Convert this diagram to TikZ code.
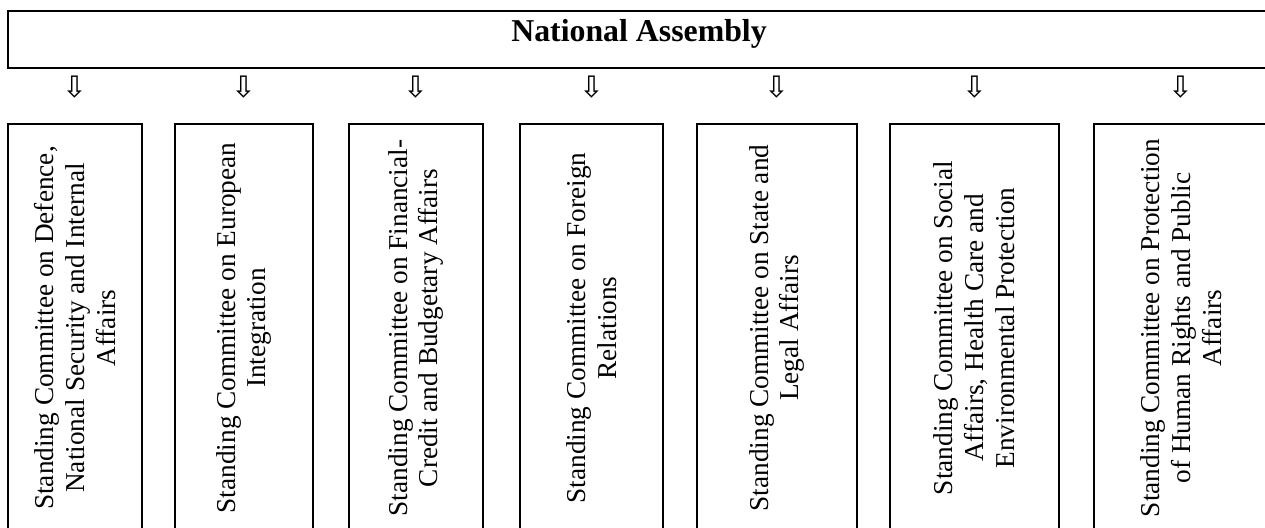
\documentclass[tikz,border=0pt]{standalone}
\usepackage{fontspec}
\setmainfont{Liberation Serif}
\newfontfamily\arrowfont{DejaVu Sans}
\tikzset{
  cmte/.style={draw,line width=0.8pt,rotate=90,align=center,inner sep=0pt,
    minimum width=179.5pt,font=\fontsize{12}{13.6}\selectfont},
  downarr/.style={inner sep=0pt,font=\arrowfont\fontsize{13}{13}\selectfont},
}
\begin{document}
\begin{tikzpicture}[x=0.44pt,y=-0.44pt]
    \clip (0,0) rectangle (1265,528);
    %% National Assembly
    \node[draw,line width=0.8pt,inner sep=0pt,minimum width=554.4pt,minimum height=25.1pt] (na) at (638,39.5) {};
    \node[anchor=base,inner sep=0pt,font=\bfseries\fontsize{14}{16}\selectfont] (natext) at (639,42) {National Assembly};
    %% committees
    \node[cmte,minimum height=58.96pt] (c1) at (75,328) {Standing Committee on Defence,\\National Security and Internal\\Affairs};
    \node[cmte,minimum height=60.72pt] (c2) at (244,328) {Standing Committee on European\\Integration};
    \node[cmte,minimum height=58.96pt] (c3) at (416,328) {Standing Committee on Financial-\\Credit and Budgetary Affairs};
    \node[cmte,minimum height=62.92pt] (c4) at (591.5,328) {Standing Committee on Foreign\\Relations};
    \node[cmte,minimum height=70.4pt] (c5) at (777,328) {Standing Committee on State and\\Legal Affairs};
    \node[cmte,minimum height=74.36pt] (c6) at (974.5,328) {Standing Committee on Social\\Affairs, Health Care and\\Environmental Protection};
    \node[cmte,minimum height=76.56pt] (c7) at (1181,328) {Standing Committee on Protection\\of Human Rights and Public\\Affairs};
    %% arrows
    \coordinate (arrowrow) at (0,87);
    \node[downarr] (a1) at (c1 |- arrowrow) {⇩};
    \node[downarr] (a2) at (c2 |- arrowrow) {⇩};
    \node[downarr] (a3) at (c3 |- arrowrow) {⇩};
    \node[downarr] (a4) at (c4 |- arrowrow) {⇩};
    \node[downarr] (a5) at (c5 |- arrowrow) {⇩};
    \node[downarr] (a6) at (c6 |- arrowrow) {⇩};
    \node[downarr] (a7) at (c7 |- arrowrow) {⇩};
\end{tikzpicture}
\end{document}
